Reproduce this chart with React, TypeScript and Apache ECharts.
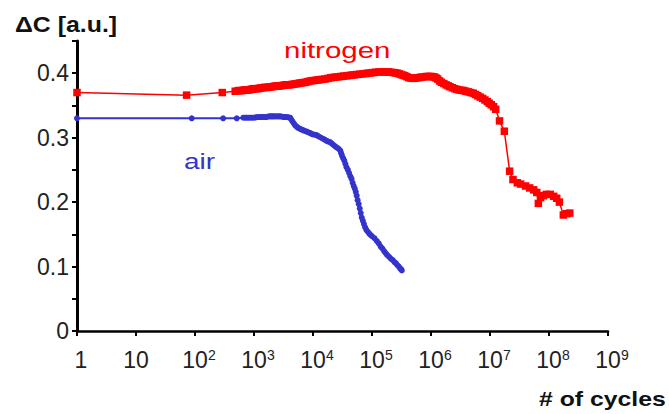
import React, { useEffect, useRef } from "react";
import * as echarts from "echarts";

// x: number of cycles, y: ΔC [a.u.]
const airCycles = [
  1, 88, 300, 510, 660, 710, 760, 810, 870, 930, 1000, 1070, 1150, 1220, 1300, 1370, 1450, 1520, 1600, 1700,
  1800, 1900, 2000, 2100, 2200, 2350, 2500, 2650, 2800, 3000, 3200, 3400, 3600, 3850, 4100, 4300, 4500, 4750,
  5000, 5300, 5600, 5950, 6300, 6650, 7000, 7500, 8000, 8500, 9000, 9500, 1.0e4, 1.08e4, 1.15e4, 1.22e4, 1.3e4,
  1.4e4, 1.5e4, 1.6e4, 1.7e4, 1.82e4, 1.95e4, 2.07e4, 2.2e4, 2.35e4, 2.5e4, 2.7e4, 2.9e4, 3.0e4, 3.1e4, 3.25e4,
  3.4e4, 3.55e4, 3.7e4, 3.9e4, 4.1e4, 4.3e4, 4.5e4, 4.7e4, 4.9e4, 5.1e4, 5.3e4, 5.5e4, 5.7e4, 5.95e4, 6.2e4,
  6.45e4, 6.7e4, 7.0e4, 7.3e4, 7.65e4, 8.0e4, 8.5e4, 9.0e4, 9.5e4, 1.0e5, 1.1e5, 1.2e5, 1.3e5, 1.4e5, 1.5e5,
  1.6e5, 1.7e5, 1.8e5, 1.95e5, 2.1e5, 2.25e5, 2.4e5, 2.55e5, 2.7e5, 2.85e5, 3.0e5, 3.1e5, 3.2e5,
];
const airValues = [
  0.33, 0.33, 0.33, 0.33, 0.331, 0.331, 0.331, 0.331, 0.331, 0.331, 0.331, 0.3315, 0.332, 0.332, 0.332, 0.332,
  0.332, 0.332, 0.332, 0.3325, 0.333, 0.333, 0.333, 0.333, 0.333, 0.333, 0.333, 0.333, 0.333, 0.3325, 0.332,
  0.332, 0.332, 0.3315, 0.331, 0.328, 0.325, 0.322, 0.319, 0.317, 0.315, 0.314, 0.313, 0.312, 0.311, 0.31,
  0.309, 0.308, 0.307, 0.306, 0.305, 0.3045, 0.304, 0.3025, 0.301, 0.2995, 0.298, 0.2965, 0.295, 0.294, 0.293,
  0.291, 0.289, 0.287, 0.285, 0.283, 0.28, 0.276, 0.272, 0.268, 0.264, 0.259, 0.254, 0.25, 0.245, 0.24, 0.236,
  0.23, 0.225, 0.221, 0.216, 0.21, 0.203, 0.197, 0.19, 0.183, 0.176, 0.171, 0.166, 0.161, 0.157, 0.154, 0.151,
  0.149, 0.147, 0.144, 0.14, 0.136, 0.131, 0.128, 0.124, 0.121, 0.118, 0.115, 0.112, 0.11, 0.107, 0.105, 0.102,
  0.1, 0.097, 0.096, 0.094,
];

const nitrogenCycles = [
  1, 72, 290, 480, 540, 580, 620, 660, 700, 750, 800, 850, 900, 950, 1000, 1070, 1150, 1220, 1300, 1400, 1500,
  1600, 1700, 1850, 2000, 2150, 2300, 2450, 2600, 2800, 3000, 3250, 3500, 3750, 4000, 4350, 4700, 5100, 5500,
  5900, 6300, 6900, 7500, 8200, 9000, 9900, 1.1e4, 1.2e4, 1.3e4, 1.45e4, 1.6e4, 1.8e4, 2.0e4, 2.2e4, 2.4e4,
  2.7e4, 3.0e4, 3.3e4, 3.7e4, 4.1e4, 4.5e4, 5.0e4, 5.5e4, 6.2e4, 7.0e4, 7.8e4, 8.5e4, 9.5e4, 1.05e5, 1.15e5,
  1.3e5, 1.45e5, 1.6e5, 1.75e5, 1.9e5, 2.1e5, 2.3e5, 2.5e5, 2.7e5, 2.9e5, 3.1e5, 3.35e5, 3.6e5, 3.9e5, 4.2e5,
  4.6e5, 5.0e5, 5.5e5, 6.0e5, 6.5e5, 7.0e5, 7.8e5, 8.5e5, 9.2e5, 1.0e6, 1.08e6, 1.15e6, 1.22e6, 1.3e6, 1.4e6,
  1.5e6, 1.65e6, 1.8e6, 1.95e6, 2.1e6, 2.3e6, 2.5e6, 2.75e6, 3.0e6, 3.3e6, 3.6e6, 3.9e6, 4.3e6, 4.7e6, 5.2e6,
  5.7e6, 6.2e6, 6.8e6, 7.5e6, 8.2e6, 9.0e6, 9.7e6, 1.05e7, 1.15e7, 1.25e7, 1.45e7, 1.75e7, 2.15e7, 2.45e7,
  2.9e7, 3.3e7, 4.0e7, 4.7e7, 5.5e7, 6.2e7, 6.6e7, 7.2e7, 8.0e7, 9.0e7, 1.05e8, 1.2e8, 1.35e8, 1.5e8, 1.75e8,
  2.0e8, 2.25e8,
];
const nitrogenValues = [
  0.37, 0.366, 0.37, 0.372, 0.373, 0.373, 0.373, 0.3735, 0.374, 0.374, 0.374, 0.3745, 0.375, 0.3755, 0.376,
  0.376, 0.376, 0.3765, 0.377, 0.3775, 0.378, 0.378, 0.378, 0.3785, 0.379, 0.3795, 0.38, 0.38, 0.38, 0.3805,
  0.381, 0.3815, 0.382, 0.382, 0.382, 0.3825, 0.383, 0.3835, 0.384, 0.3845, 0.385, 0.3855, 0.386, 0.387, 0.388,
  0.3885, 0.389, 0.3895, 0.39, 0.3905, 0.391, 0.392, 0.393, 0.3935, 0.394, 0.3945, 0.395, 0.3955, 0.396,
  0.3965, 0.397, 0.3975, 0.398, 0.3985, 0.399, 0.3995, 0.4, 0.4005, 0.401, 0.4015, 0.402, 0.402, 0.402, 0.402,
  0.402, 0.4015, 0.401, 0.4005, 0.4, 0.399, 0.398, 0.397, 0.396, 0.3945, 0.393, 0.3925, 0.392, 0.3925, 0.393,
  0.3935, 0.394, 0.3945, 0.395, 0.395, 0.395, 0.3945, 0.394, 0.3925, 0.391, 0.388, 0.386, 0.384, 0.382, 0.3805,
  0.379, 0.3775, 0.376, 0.375, 0.374, 0.3735, 0.373, 0.372, 0.371, 0.37, 0.369, 0.367, 0.365, 0.363, 0.361,
  0.3585, 0.356, 0.3535, 0.351, 0.348, 0.344, 0.326, 0.31, 0.248, 0.235, 0.23, 0.228, 0.225, 0.222, 0.219,
  0.215, 0.198, 0.207, 0.21, 0.212, 0.212, 0.209, 0.206, 0.2, 0.18, 0.182, 0.183,
];

const yTickLabels = ["0", "0.1", "0.2", "0.3", "0.4"];
const xAxisTitle = "# of cycles";
const yAxisTitle = "ΔC [a.u.]";
const airLabel = "air";
const nitrogenLabel = "nitrogen";

const RED = "#ff0000";
const BLUE = "#3434cc";
const FONT = "'Liberation Sans', Arial, sans-serif";

export default function App() {
  const ref = useRef<HTMLDivElement>(null);

  useEffect(() => {
    if (!ref.current) return;
    const chart = echarts.init(ref.current, undefined, { renderer: "svg" });
    const airData = airCycles.map((c, i) => [c, airValues[i]]);
    const nitrogenData = nitrogenCycles.map((c, i) => [c, nitrogenValues[i]]);

    chart.setOption({
      animation: false,
      backgroundColor: "#ffffff",
      textStyle: { fontFamily: FONT },
      grid: { left: 77, right: 61, top: 41, bottom: 83, containLabel: false },
      xAxis: {
        type: "log",
        logBase: 10,
        min: 1,
        max: 1e9,
        splitNumber: 9,
        axisLine: { show: true, onZero: false, lineStyle: { color: "#000", width: 2.5 } },
        axisTick: { show: true, inside: false, length: 5, lineStyle: { color: "#000", width: 2 } },
        minorTick: { show: false },
        splitLine: { show: false },
        axisLabel: {
          margin: 17,
          color: "#222",
          fontFamily: FONT,
          fontSize: 23,
          formatter: (v: number) => {
            const e = Math.round(Math.log10(v));
            if (e === 0) return "{p| }{b|1}";
            if (e === 1) return "{b|10}";
            return "{p| }{b|10}{s|" + e + "}";
          },
          rich: {
            b: { fontSize: 23, lineHeight: 24, color: "#222", fontFamily: FONT },
            s: { fontSize: 14, lineHeight: 16, verticalAlign: "top", color: "#222", fontFamily: FONT },
            p: { width: 8, fontSize: 14, lineHeight: 16 },
          },
        },
      },
      yAxis: {
        type: "value",
        min: 0,
        max: 0.45,
        interval: 0.05,
        axisLine: { show: true, lineStyle: { color: "#000", width: 3 } },
        axisTick: { show: true, inside: false, length: 5, lineStyle: { color: "#000", width: 2 } },
        splitLine: { show: false },
        axisLabel: {
          margin: 8,
          color: "#222",
          fontFamily: FONT,
          fontSize: 23,
          formatter: (v: number) => {
            const k = Math.round(v * 100);
            if (k % 10 !== 0) return "";
            return yTickLabels[k / 10] ?? "";
          },
        },
      },
      series: [
        {
          name: "nitrogen",
          type: "line",
          data: nitrogenData,
          color: RED,
          symbol: "rect",
          symbolSize: 7.5,
          showSymbol: true,
          lineStyle: { color: RED, width: 1.5 },
          itemStyle: { color: RED },
          z: 2,
        },
        {
          name: "air",
          type: "line",
          data: airData,
          color: BLUE,
          symbol: "circle",
          symbolSize: 6,
          showSymbol: true,
          lineStyle: { color: BLUE, width: 2 },
          itemStyle: { color: BLUE },
          z: 3,
        },
      ],
      graphic: [
        {
          type: "text",
          x: 15,
          y: 24.5,
          scaleX: 1.13,
          style: {
            text: yAxisTitle,
            fontFamily: FONT,
            fontSize: 22,
            fontWeight: "bold",
            fill: "#111",
            verticalAlign: "middle",
            align: "left",
          },
        },
        {
          type: "text",
          x: 539,
          y: 399.8,
          scaleX: 1.24,
          style: {
            text: xAxisTitle,
            fontFamily: FONT,
            fontSize: 20,
            fontWeight: "bold",
            fill: "#111",
            verticalAlign: "middle",
            align: "left",
          },
        },
        {
          type: "text",
          x: 284,
          y: 50.7,
          scaleX: 1.34,
          style: {
            text: nitrogenLabel,
            fontFamily: FONT,
            fontSize: 22,
            fill: RED,
            verticalAlign: "middle",
            align: "left",
          },
        },
        {
          type: "text",
          x: 184,
          y: 160.7,
          scaleX: 1.27,
          style: {
            text: airLabel,
            fontFamily: FONT,
            fontSize: 22,
            fill: BLUE,
            verticalAlign: "middle",
            align: "left",
          },
        },
      ],
    });

    return () => chart.dispose();
  }, []);

  return (
    <div
      ref={ref}
      style={{ position: "absolute", left: 0, top: 0, width: 669, height: 414, background: "#fff" }}
    />
  );
}
